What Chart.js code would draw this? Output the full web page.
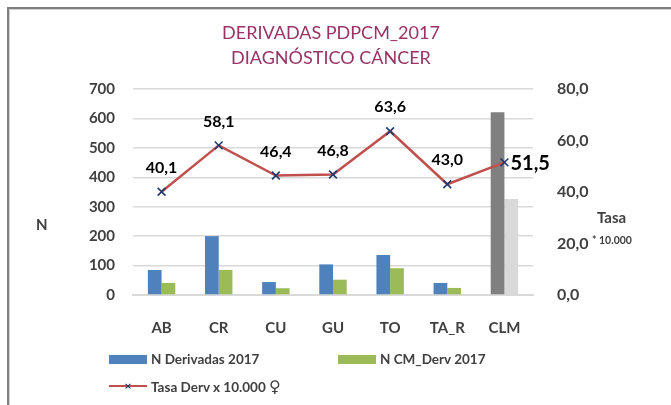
<!DOCTYPE html>
<html>
<head>
<meta charset="utf-8">
<script src="https://cdn.jsdelivr.net/npm/chart.js@4"></script>
<style>
    body { margin: 0; background: #fff; }
    #wrap { position: relative; width: 671px; height: 405px; overflow: hidden; font-family: Lato, "Open Sans", sans-serif; }
    #frame { position: absolute; left: 7px; top: 7px; width: 700px; height: 420px; border-left: 2px solid #7f7f7f; border-top: 2px solid #7f7f7f; box-shadow: inset 1px 1px 0 #d0d0d0; }
    canvas { position: absolute; left: 0; top: 0; }
    .title { position: absolute; left: 0; width: 662px; text-align: center; color: #993366; font-size: 18px; }
    .axis-txt { position: absolute; font-weight: bold; color: #404040; }
    .leg { position: absolute; font-weight: bold; font-size: 13.5px; color: #404040; white-space: nowrap; }
    .leg .box { position: absolute; left: 0; top: 4px; width: 38px; height: 9px; }
    .fem { font-size: 16px; font-family: "DejaVu Sans", sans-serif; }
</style>
</head>
<body>
<div id="wrap">
    <div id="frame"></div>
    <canvas id="chart" width="671" height="405"></canvas>
    <div class="title" style="top:21px;">DERIVADAS PDPCM_2017</div>
    <div class="title" style="top:46px;">DIAGNÓSTICO CÁNCER</div>
    <div class="axis-txt" style="left:36px; top:215px; font-size:15px;">N</div>
    <div class="axis-txt" style="left:597px; top:208px; font-size:15px;">Tasa</div>
    <div class="axis-txt" style="left:592px; top:234px; font-size:10.5px;">* 10.000</div>
    <div id="legend"></div>
</div>
<script>
    // --- 데이터 ---
    const categories = ['AB', 'CR', 'CU', 'GU', 'TO', 'TA_R', 'CLM'];
    const nDerivadas = [85, 200, 44, 104, 136, 41, 621];
    const nCmDerv = [41, 85, 23, 52, 91, 24, 326];
    const tasaDerv = [40.1, 58.1, 46.4, 46.8, 63.6, 43.0, 51.5];
    const leftTicks = [0, 100, 200, 300, 400, 500, 600, 700];
    const rightTicks = [0, 20, 40, 60, 80];

    const seriesLabels = ['N Derivadas 2017', 'N CM_Derv 2017', 'Tasa Derv x 10.000 ♀'];

    const blue = '#4f81bd', green = '#9bbb59', red = '#c0504d', navy = '#1f3a6e';
    const darkGrey = '#808080', lightGrey = '#d9d9d9';

    // CLM 막대는 회색으로 표시
    const colorsFor = (base, clmColor) => categories.map(c => c === 'CLM' ? clmColor : base);

    const fmt = v => v.toFixed(1).replace('.', ',');

    // 꺾은선 값 라벨
    const valueLabels = {
        id: 'valueLabels',
        afterDatasetsDraw(chart) {
            const meta = chart.getDatasetMeta(2);
            const ctx = chart.ctx;
            ctx.save();
            ctx.fillStyle = '#000';
            ctx.textBaseline = 'middle';
            meta.data.forEach((pt, i) => {
                const txt = fmt(tasaDerv[i]);
                if (i === tasaDerv.length - 1) {
                    ctx.font = 'bold 20px Lato';
                    ctx.textAlign = 'left';
                    ctx.fillText(txt, pt.x + 6, pt.y + 1);
                } else {
                    ctx.font = 'bold 16px Lato';
                    ctx.textAlign = 'center';
                    ctx.fillText(txt, pt.x, pt.y - 24);
                }
            });
            ctx.restore();
        }
    };

    const chart = new Chart(document.getElementById('chart'), {
        data: {
            labels: categories,
            datasets: [
                {
                    type: 'bar',
                    label: seriesLabels[0],
                    data: nDerivadas,
                    backgroundColor: colorsFor(blue, darkGrey),
                    yAxisID: 'y',
                    order: 2,
                    barPercentage: 1,
                    categoryPercentage: 0.48
                },
                {
                    type: 'bar',
                    label: seriesLabels[1],
                    data: nCmDerv,
                    backgroundColor: colorsFor(green, lightGrey),
                    yAxisID: 'y',
                    order: 2,
                    barPercentage: 1,
                    categoryPercentage: 0.48
                },
                {
                    type: 'line',
                    label: seriesLabels[2],
                    data: tasaDerv,
                    borderColor: red,
                    borderWidth: 2.5,
                    pointStyle: 'crossRot',
                    pointRadius: 5.5,
                    pointBorderColor: navy,
                    pointBorderWidth: 1.6,
                    tension: 0,
                    yAxisID: 'y1',
                    order: 0
                }
            ]
        },
        options: {
            responsive: false,
            animation: false,
            layout: { padding: { top: 89, bottom: 70, left: 0, right: 0 } },
            plugins: {
                legend: { display: false },
                title: { display: false },
                tooltip: { enabled: false }
            },
            scales: {
                x: {
                    grid: { display: false },
                    border: { color: lightGrey, width: 2 },
                    ticks: { color: '#404040', font: { family: 'Lato', weight: 'bold', size: 15 }, padding: 16 },
                    afterFit: s => { s.height = 40; }
                },
                y: {
                    position: 'left',
                    min: 0,
                    max: 700,
                    afterBuildTicks: s => { s.ticks = leftTicks.map(v => ({ value: v })); },
                    grid: { color: lightGrey, lineWidth: 1.5, drawTicks: false },
                    border: { display: false },
                    ticks: { color: '#404040', font: { family: 'Lato', weight: 'bold', size: 15 }, padding: 18 },
                    afterFit: s => { s.width = 133; }
                },
                y1: {
                    position: 'right',
                    min: 0,
                    max: 80,
                    afterBuildTicks: s => { s.ticks = rightTicks.map(v => ({ value: v })); },
                    grid: { display: false },
                    border: { display: false },
                    ticks: {
                        color: '#404040',
                        font: { family: 'Lato', weight: 'bold', size: 16 },
                        padding: 16,
                        callback: v => fmt(v)
                    },
                    afterFit: s => { s.width = 138; }
                }
            }
        },
        plugins: [valueLabels]
    });

    // --- 범례 (HTML) ---
    const legendItems = [
        { text: seriesLabels[0], color: blue, left: 109, top: 351, kind: 'box' },
        { text: seriesLabels[1], color: green, left: 338, top: 351, kind: 'box' },
        { text: seriesLabels[2], color: red, left: 109, top: 377, kind: 'line' }
    ];
    document.getElementById('legend').innerHTML = legendItems.map(item => {
        const mark = item.kind === 'box'
            ? `<span class="box" style="background:${item.color}"></span>`
            : `<span style="position:absolute;left:0;top:8px;width:38px;height:2px;background:${item.color}"></span>
               <span style="position:absolute;left:14px;top:0px;width:10px;color:${navy};font-size:12px;line-height:17px;text-align:center;">×</span>`;
        const text = item.text.replace('♀', '<span class="fem">♀</span>');
        return `<div class="leg" style="left:${item.left}px;top:${item.top}px;padding-left:42px;">${mark}${text}</div>`;
    }).join('');
</script>
</body>
</html>
